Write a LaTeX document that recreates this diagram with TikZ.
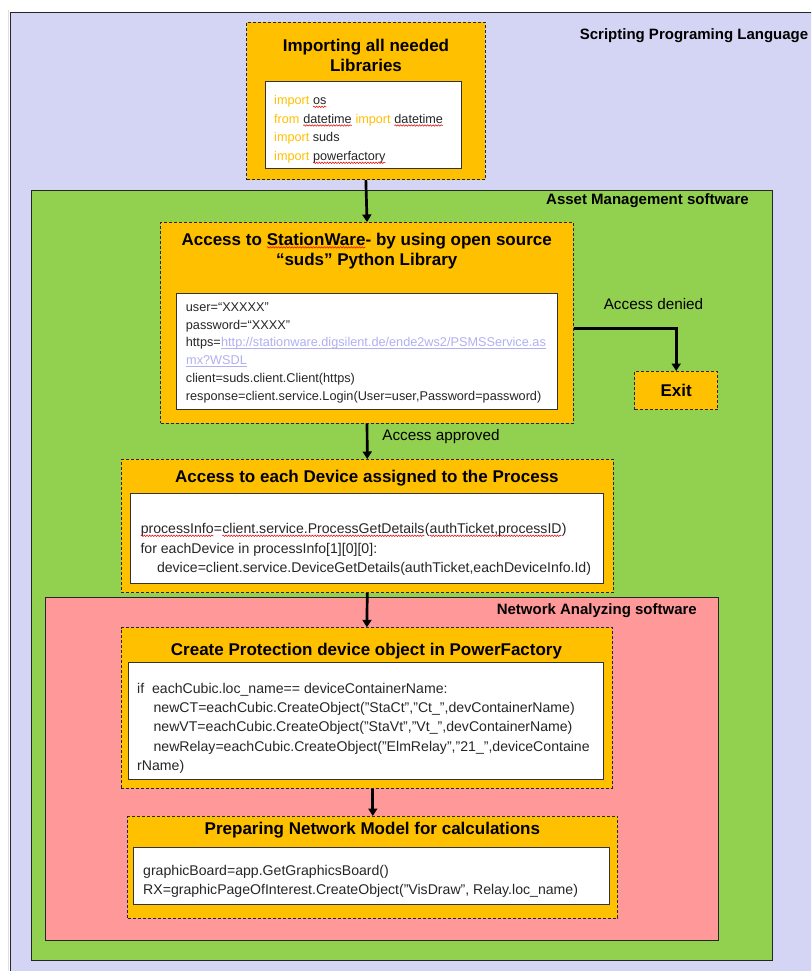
\documentclass[tikz,border=0pt]{standalone}
\usepackage{fontspec}
\setmainfont{Liberation Sans}
\usetikzlibrary{arrows.meta,decorations.pathmorphing}
\definecolor{lav}{HTML}{D4D4F4}
\definecolor{grn}{HTML}{92D050}
\definecolor{pnk}{HTML}{FF9999}
\definecolor{org}{HTML}{FFC000}
\definecolor{kw}{HTML}{FFC000}
\definecolor{urlc}{HTML}{B0B0F2}
\definecolor{codec}{HTML}{262626}
\newcommand\sq[1]{\tikz[baseline=(w.base)]{\node[inner sep=0pt,outer sep=0pt,anchor=base](w) at (0,0){#1};\draw[red!90!black,line width=0.5pt,decorate,decoration={snake,amplitude=0.75pt,segment length=2.7pt}]([yshift=-2.3pt]w.base west)--([yshift=-2.3pt]w.base east);}}
\newcommand\ulk[1]{\tikz[baseline=(u.base)]{\node[inner sep=0pt,outer sep=0pt,anchor=base,text=urlc](u) at (0,0){#1};\draw[urlc,line width=0.6pt]([yshift=-1.6pt]u.base west)--([yshift=-1.6pt]u.base east);}}
\begin{document}
\begin{tikzpicture}[x=1pt,y=-1pt,
  obox/.style={draw=black!85,dash pattern=on 3pt off 2pt,line width=0.8pt,fill=org,inner sep=0pt,anchor=north west},
  wbox/.style={draw=black!80,line width=0.9pt,fill=white,inner sep=0pt,anchor=north west},
  ttl/.style={font=\fontsize{17}{20}\selectfont\bfseries,align=center,inner sep=0pt},
  lbl/.style={font=\fontsize{15}{18}\selectfont\bfseries,inner sep=0pt},
  capt/.style={font=\fontsize{15.3}{18}\selectfont,inner sep=0pt},
  code/.style={anchor=base west,inner sep=0pt,text=codec},
  arr/.style={line width=2.7pt,-{Triangle[width=9pt,length=7.5pt]}},
  area/.style={draw=black!85,line width=1.1pt,inner sep=0pt,anchor=north west}
]
\clip (0,0) rectangle (811,971);
\useasboundingbox (0,0) rectangle (811,971);
\draw[black!12,line width=0.8pt] (8.5,10) -- (8.5,971);
% containers
\node[area,fill=lav,minimum width=830pt,minimum height=990pt] (outer) at (10.3,12.3) {};
\node[area,fill=grn,minimum width=741pt,minimum height=770pt] (asset) at (30.7,189.5) {};
\node[area,fill=pnk,minimum width=673pt,minimum height=343pt] (net) at (44.5,597.3) {};
\node[lbl] (outerL) at (694,35.3) {Scripting Programing Language};
\node[lbl] (assetL) at (647.5,201) {Asset Management software};
\node[lbl] (netL) at (596.8,610.7) {Network Analyzing software};
% box 1
\node[obox,minimum width=238.5pt,minimum height=157.3pt] (imp) at (246.2,22) {};
\node[ttl] (impT) at (366,55.3) {Importing all needed\\Libraries};
\node[wbox,minimum width=196pt,minimum height=87pt] (impC) at (265,81.3) {};
\node[code,font=\fontsize{12.65}{18.67}\selectfont] (impX) at (274,104.5) {\vtop{%
\hbox{\textcolor{kw}{import} \sq{os}}%
\hbox{\textcolor{kw}{from} \sq{datetime} \textcolor{kw}{import} \sq{datetime}}%
\hbox{\textcolor{kw}{import} suds}%
\hbox{\textcolor{kw}{import} \sq{powerfactory}}}};
% box 2
\node[obox,minimum width=412.7pt,minimum height=200.7pt] (sw) at (160.3,222) {};
\node[ttl] (swT) at (366.7,250.7) {Access to \sq{StationWare}- by using open source\\“suds” Python Library};
\node[wbox,minimum width=381pt,minimum height=116.6pt] (swC) at (176,292.7) {};
\node[code,font=\fontsize{12.7}{17.7}\selectfont] (swX) at (185.7,311.5) {\vtop{%
\hbox{user=“XXXXX”}%
\hbox{password=“XXXX”}%
\hbox{https=\ulk{http://stationware.digsilent.de/ende2ws2/PSMSService.as}}%
\hbox{\ulk{mx?WSDL}}%
\hbox{client=suds.client.Client(https)}%
\hbox{response=client.service.Login(User=user,Password=password)}}};
% exit
\node[obox,minimum width=83pt,minimum height=38.3pt] (exit) at (634.3,371) {};
\node[ttl] (exitT) at (exit.center) {Exit};
\node[capt] (deny) at (653.5,304) {Access denied};
% box 3
\node[obox,minimum width=492.3pt,minimum height=133.3pt] (dev) at (120.7,459) {};
\node[ttl] (devT) at (366.9,478.3) {Access to each Device assigned to the Process};
\node[wbox,minimum width=473.1pt,minimum height=89.4pt] (devC) at (130.3,493.3) {};
\node[code,font=\fontsize{14.1}{19.5}\selectfont] (devX) at (140.3,533.5) {\vtop{%
\hbox{\sq{processInfo}=\sq{client.service.ProcessGetDetails}(\sq{authTicket,processID})}%
\hbox{for eachDevice in processInfo[1][0][0]:}%
\hbox{\hspace*{16.5pt}device=client.service.DeviceGetDetails(authTicket,eachDeviceInfo.Id)}}};
\node[capt] (appr) at (441,437) {Access approved};
% box 4
\node[obox,minimum width=491pt,minimum height=160.7pt] (cre) at (121,627.3) {};
\node[ttl] (creT) at (366.5,651) {Create Protection device object in PowerFactory};
\node[wbox,minimum width=475.5pt,minimum height=116.7pt] (creC) at (127.5,662) {};
\node[code,font=\fontsize{14.1}{19.35}\selectfont] (creX) at (137,693) {\vtop{%
\hbox{if\ \ eachCubic.loc\_name== deviceContainerName:}%
\hbox{\hspace*{16.4pt}newCT=eachCubic.CreateObject("StaCt","Ct\_",devContainerName)}%
\hbox{\hspace*{16.4pt}newVT=eachCubic.CreateObject("StaVt","Vt\_",devContainerName)}%
\hbox{\hspace*{16.4pt}newRelay=eachCubic.CreateObject("ElmRelay","21\_",deviceContaine}%
\hbox{rName)}}};
% box 5
\node[obox,minimum width=490pt,minimum height=101.7pt] (prep) at (127.4,816) {};
\node[ttl] (prepT) at (372.4,830) {Preparing Network Model for calculations};
\node[wbox,minimum width=476.2pt,minimum height=57.6pt] (prepC) at (132.8,846.7) {};
\node[code,font=\fontsize{14.1}{19.3}\selectfont] (prepX) at (143,875) {\vtop{%
\hbox{graphicBoard=app.GetGraphicsBoard()}%
\hbox{RX=graphicPageOfInterest.CreateObject("VisDraw", Relay.loc\_name)}}};
% connectors
\draw[arr] (imp.south) -- (sw.north);
\draw[arr] (sw.south) -- (dev.north);
\draw[arr] ([yshift=-6pt]sw.east) -| (exit.north);
\draw[arr] (dev.south) -- (cre.north);
\draw[arr] (prep.north |- cre.south) -- (prep.north);
\end{tikzpicture}
\end{document}
